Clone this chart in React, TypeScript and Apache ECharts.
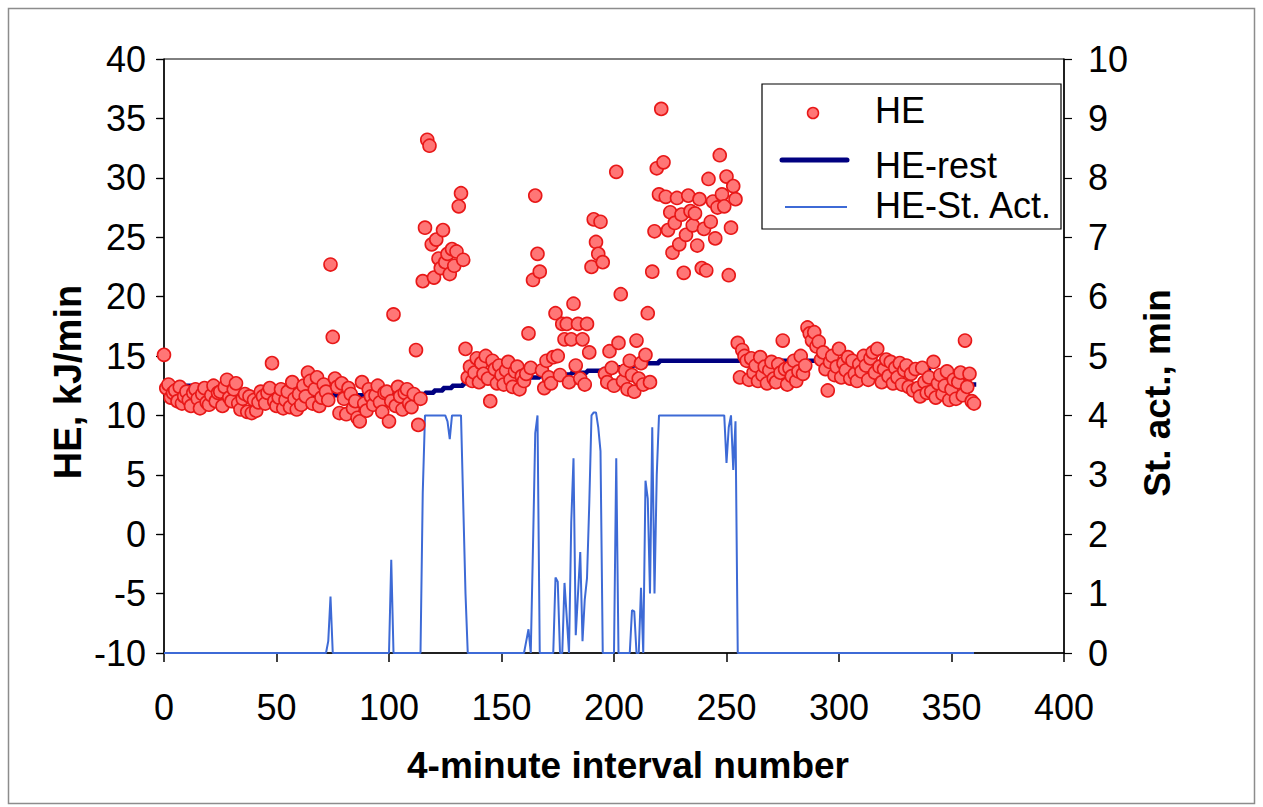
import React, { useEffect, useRef } from "react";
import * as echarts from "echarts";

const FONT = "'Liberation Sans', Arial, sans-serif";

// x ticks / axes
const X_MIN = 0, X_MAX = 400, X_INT = 50;
const Y1_MIN = -10, Y1_MAX = 40, Y1_INT = 5;
const Y2_MIN = 0, Y2_MAX = 10, Y2_INT = 1;

// HE, kJ/min for each 4-minute interval 0..360
const heValues: number[] = [
  15.1, 12.3, 12.6, 11.5, 11.9, 12.1, 11.2, 12.4, 11.0, 11.6,
  12.0, 11.3, 10.8, 11.9, 12.2, 11.4, 10.6, 11.8, 12.3, 11.1,
  10.9, 11.7, 12.5, 11.2, 11.9, 12.0, 10.8, 12.4, 13.0, 11.5,
  11.2, 12.2, 12.7, 11.0, 10.5, 11.4, 11.8, 10.3, 11.6, 10.2,
  11.3, 10.4, 11.1, 12.0, 11.6, 11.0, 11.9, 12.3, 14.4, 11.2,
  10.8, 11.5, 12.2, 10.6, 11.3, 12.0, 10.7, 12.8, 11.4, 10.5,
  11.8, 10.9, 12.5, 11.6, 13.6, 12.9, 11.0, 12.2, 13.2, 10.8,
  11.5, 12.6, 12.0, 11.3, 22.7, 16.6, 13.1, 12.4, 10.2, 12.7,
  11.4, 10.1, 12.3, 11.8, 10.6, 11.2, 9.8, 9.5, 12.8, 11.0,
  10.4, 12.2, 11.6, 10.9, 11.7, 12.5, 11.1, 10.3, 11.9, 12.0,
  9.5, 11.2, 18.5, 10.8, 12.4, 11.6, 10.5, 11.9, 12.2, 11.0,
  10.7, 11.8, 15.5, 9.2, 11.4, 21.3, 25.8, 33.2, 32.7, 24.4,
  21.6, 24.8, 23.2, 22.4, 25.6, 22.9, 23.6, 21.9, 24.0, 22.6,
  23.8, 27.6, 28.7, 23.1, 15.6, 13.2, 14.1, 12.9, 13.6, 14.8,
  12.8, 14.4, 13.5, 15.0, 13.1, 11.2, 14.6, 13.9, 12.7, 14.2,
  13.4, 12.6, 13.8, 14.5, 13.0, 12.4, 13.7, 14.1, 12.2, 13.3,
  12.9, 13.5, 16.9, 14.0, 21.4, 28.5, 23.6, 22.1, 13.8, 12.3,
  14.6, 13.2, 12.7, 14.9, 18.6, 15.0, 13.4, 17.7, 16.4, 17.7,
  12.8, 16.4, 19.4, 14.2, 17.7, 13.1, 16.4, 12.6, 17.7, 15.3,
  22.5, 26.5, 24.6, 23.6, 26.3, 22.9, 13.5, 12.8, 15.4, 14.0,
  12.5, 30.5, 16.1, 20.2, 12.9, 13.8, 12.2, 14.6, 13.4, 12.0,
  16.3, 13.1, 14.4, 12.6, 15.1, 18.6, 12.8, 22.1, 25.5, 30.8,
  28.6, 35.8, 31.3, 28.4, 25.6, 27.1, 23.7, 26.2, 28.3, 24.4,
  26.9, 22.0, 25.2, 28.5, 27.2, 26.0, 27.0, 24.3, 28.2, 22.4,
  25.7, 22.2, 29.9, 26.3, 28.0, 24.9, 27.5, 31.9, 28.6, 27.6,
  30.1, 21.8, 25.8, 29.3, 28.2, 16.1, 13.2, 15.5, 15.0, 14.6,
  13.0, 14.8, 13.6, 14.2, 12.9, 14.9, 13.4, 14.1, 12.7, 13.8,
  14.5, 13.1, 12.8, 14.3, 13.6, 16.3, 13.9, 12.6, 14.0, 13.3,
  14.6, 12.9, 13.7, 15.0, 13.5, 14.2, 17.4, 16.9, 16.3, 17.0,
  15.8, 16.2, 14.7, 15.3, 13.9, 12.1, 14.5, 15.0, 13.4, 14.1,
  15.6, 13.2, 14.4, 13.8, 14.9, 13.1, 14.6, 13.5, 12.9, 14.3,
  13.7, 15.0, 14.2, 13.0, 14.8, 15.3, 13.6, 15.6, 14.1, 12.8,
  13.9, 14.7, 13.3, 14.5, 12.7, 14.0, 13.2, 14.4, 12.6, 13.8,
  14.2, 12.4, 13.5, 12.1, 13.9, 12.3, 11.6, 14.0, 12.8, 11.9,
  13.2, 12.0, 14.5, 11.5, 12.7, 13.4, 11.8, 12.5, 13.7, 11.3,
  12.2, 13.0, 11.4, 12.8, 13.6, 11.7, 16.3, 12.4, 13.5, 11.2,
  11.0,
];

// St. act., min for each interval 0..360 (right axis)
const stActValues: number[] = [
  0, 0, 0, 0, 0, 0, 0, 0, 0, 0, 0, 0, 0, 0, 0, 0, 0, 0, 0, 0,
  0, 0, 0, 0, 0, 0, 0, 0, 0, 0, 0, 0, 0, 0, 0, 0, 0, 0, 0, 0,
  0, 0, 0, 0, 0, 0, 0, 0, 0, 0, 0, 0, 0, 0, 0, 0, 0, 0, 0, 0,
  0, 0, 0, 0, 0, 0, 0, 0, 0, 0, 0, 0, 0, 0.2, 0.95, 0, 0, 0, 0, 0,
  0, 0, 0, 0, 0, 0, 0, 0, 0, 0, 0, 0, 0, 0, 0, 0, 0, 0, 0, 0,
  0, 1.57, 0, 0, 0, 0, 0, 0, 0, 0, 0, 0, 0, 0, 0, 2.7, 4, 4, 4, 4,
  4, 4, 4, 4, 4, 4, 3.9, 3.6, 4, 4, 4, 4, 4, 2.5, 1.0, 0, 0, 0, 0, 0,
  0, 0, 0, 0, 0, 0, 0, 0, 0, 0, 0, 0, 0, 0, 0, 0, 0, 0, 0, 0,
  0, 0.2, 0.4, 0, 1.8, 3.7, 4, 0, 0, 0, 0, 0, 0, 0, 1.27, 1.2, 0, 0, 1.18, 0.6,
  0, 2.2, 3.28, 0.3, 1.0, 1.7, 0.2, 0.9, 1.26, 2.5, 4, 4.05, 4.05, 3.8, 3.4, 0, 0, 0, 0, 0,
  0, 3.28, 0, 0, 0, 0, 0, 0, 0.72, 0.7, 0, 0, 1.1, 0, 2.9, 2.6, 1.0, 3.8, 1.0, 3.0,
  4, 4, 4, 4, 4, 4, 4, 4, 4, 4, 4, 4, 4, 4, 4, 4, 4, 4, 4, 4,
  4, 4, 4, 4, 4, 4, 4, 4, 4, 4, 3.2, 3.8, 4, 3.08, 3.9, 0, 0, 0, 0, 0,
  0, 0, 0, 0, 0, 0, 0, 0, 0, 0, 0, 0, 0, 0, 0, 0, 0, 0, 0, 0,
  0, 0, 0, 0, 0, 0, 0, 0, 0, 0, 0, 0, 0, 0, 0, 0, 0, 0, 0, 0,
  0, 0, 0, 0, 0, 0, 0, 0, 0, 0, 0, 0, 0, 0, 0, 0, 0, 0, 0, 0,
  0, 0, 0, 0, 0, 0, 0, 0, 0, 0, 0, 0, 0, 0, 0, 0, 0, 0, 0, 0,
  0, 0, 0, 0, 0, 0, 0, 0, 0, 0, 0, 0, 0, 0, 0, 0, 0, 0, 0, 0,
  0,
];

// HE-rest (step line) breakpoints
const restX: number[] = [0, 14, 112, 116, 120, 124, 128, 133, 138, 145, 152, 160, 167, 174, 181, 188, 195, 202, 208, 214, 220, 300, 325, 340, 350, 356, 361];
const restY: number[] = [12.5, 11.7, 11.8, 11.9, 12.1, 12.3, 12.5, 12.7, 12.9, 13.0, 13.1, 13.2, 13.3, 13.45, 13.6, 13.75, 13.9, 14.05, 14.2, 14.4, 14.6, 14.5, 13.9, 13.2, 12.9, 12.6, 12.6];

const legendNames = ["HE", "HE-rest", "HE-St. Act."];
const xTitle = "4-minute interval number";
const y1Title = "HE, kJ/min";
const y2Title = "St. act., min";

const HE_FILL = "#ff7676";
const HE_BORDER = "#e81818";
const REST_COLOR = "#000080";
const ACT_COLOR = "#3d6ad6";

export default function App() {
  const ref = useRef<HTMLDivElement>(null);
  useEffect(() => {
    if (!ref.current) return;
    const chart = echarts.init(ref.current, undefined, { renderer: "svg" });
    const heData = heValues.map((v, i) => [i, v]);
    const actData = stActValues.map((v, i) => [i, v]);
    const restData = restX.map((x, i) => [x, restY[i]]);
    const axisLabel = { fontSize: 36, color: "#000", fontFamily: FONT };
    const option: any = {
      animation: false,
      backgroundColor: "#fff",
      grid: {
        left: 164, right: 199, top: 59, bottom: 154,
        show: true, borderColor: "#000", borderWidth: 1, backgroundColor: "transparent",
      },
      xAxis: {
        type: "value", min: X_MIN, max: X_MAX, interval: X_INT,
        axisLine: { show: true, onZero: false, lineStyle: { color: "#000", width: 1.5 } },
        axisTick: { show: true, length: 9, lineStyle: { color: "#000", width: 1.5 } },
        axisLabel: { ...axisLabel, margin: 36 },
        splitLine: { show: false },
      },
      yAxis: [
        {
          type: "value", min: Y1_MIN, max: Y1_MAX, interval: Y1_INT, position: "left",
          axisLine: { show: true, onZero: false, lineStyle: { color: "#000", width: 1.5 } },
          axisTick: { show: true, length: 8, lineStyle: { color: "#000", width: 1.2 } },
          axisLabel: { ...axisLabel, margin: 18 },
          splitLine: { show: false },
        },
        {
          type: "value", min: Y2_MIN, max: Y2_MAX, interval: Y2_INT, position: "right",
          axisLine: { show: true, onZero: false, lineStyle: { color: "#000", width: 1.5 } },
          axisTick: { show: true, length: 8, lineStyle: { color: "#000", width: 1.2 } },
          axisLabel: { ...axisLabel, margin: 24 },
          splitLine: { show: false },
        },
        {
          type: "value", min: Y2_MIN, max: Y2_MAX, interval: Y2_INT, position: "right",
          axisLine: { show: false },
          axisTick: { show: true, inside: true, length: 7, lineStyle: { color: "#000", width: 1.2 } },
          axisLabel: { show: false },
          splitLine: { show: false },
        },
      ],
      series: [
        {
          name: legendNames[2], type: "line", yAxisIndex: 1, data: actData,
          showSymbol: false, symbol: "none",
          lineStyle: { color: ACT_COLOR, width: 2 }, z: 2,
        },
        {
          name: legendNames[1], type: "line", yAxisIndex: 0, data: restData,
          step: "end", showSymbol: false, symbol: "none",
          lineStyle: { color: REST_COLOR, width: 4.5 }, z: 3,
        },
        {
          name: legendNames[0], type: "scatter", yAxisIndex: 0, data: heData,
          symbol: "circle", symbolSize: 13,
          itemStyle: { color: HE_FILL, borderColor: HE_BORDER, borderWidth: 1.6, opacity: 1 },
          z: 4,
        },
      ],
      graphic: [
        {
          type: "rect", z: 0, silent: true,
          shape: { x: 8.5, y: 8.5, width: 1246, height: 795 },
          style: { fill: "none", stroke: "#8c8c8c", lineWidth: 1.5 },
        },
        {
          type: "group", z: 100,
          children: [
            { type: "rect", shape: { x: 762, y: 84, width: 299, height: 145 }, style: { fill: "#fff", stroke: "#000", lineWidth: 1.2 } },
            { type: "circle", shape: { cx: 813, cy: 113, r: 5.5 }, style: { fill: HE_FILL, stroke: HE_BORDER, lineWidth: 1.5 } },
            { type: "line", shape: { x1: 782, y1: 160, x2: 847, y2: 160 }, style: { stroke: REST_COLOR, lineWidth: 5, lineCap: "round" } },
            { type: "line", shape: { x1: 785, y1: 207, x2: 847, y2: 207 }, style: { stroke: ACT_COLOR, lineWidth: 2 } },
            { type: "text", x: 875, y: 110, style: { text: legendNames[0], font: `36px ${FONT}`, fill: "#000", textAlign: "left", textVerticalAlign: "middle" } },
            { type: "text", x: 875, y: 165, style: { text: legendNames[1], font: `36px ${FONT}`, fill: "#000", textAlign: "left", textVerticalAlign: "middle" } },
            { type: "text", x: 875, y: 205, style: { text: legendNames[2], font: `36px ${FONT}`, fill: "#000", textAlign: "left", textVerticalAlign: "middle" } },
          ],
        },
        {
          type: "text", z: 100, x: 628, y: 765,
          style: { text: xTitle, font: `bold 37px ${FONT}`, fill: "#000", textAlign: "center", textVerticalAlign: "middle" },
        },
        {
          type: "text", z: 100, x: 68, y: 382, rotation: Math.PI / 2,
          style: { text: y1Title, font: `bold 38px ${FONT}`, fill: "#000", textAlign: "center", textVerticalAlign: "middle" },
        },
        {
          type: "text", z: 100, x: 1157, y: 393, rotation: Math.PI / 2,
          style: { text: y2Title, font: `bold 37px ${FONT}`, fill: "#000", textAlign: "center", textVerticalAlign: "middle" },
        },
      ],
    };
    chart.setOption(option);
    return () => chart.dispose();
  }, []);
  return (
    <div
      ref={ref}
      style={{ position: "fixed", left: 0, top: 0, width: 1263, height: 807, background: "#fff" }}
    />
  );
}
